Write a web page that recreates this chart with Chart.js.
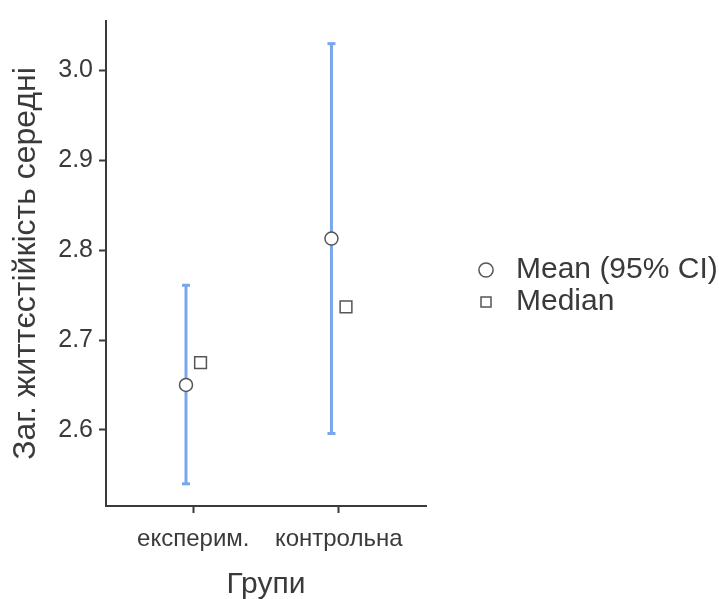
<!DOCTYPE html>
<html>
<head>
<meta charset="utf-8">
<script src="https://cdn.jsdelivr.net/npm/chart.js@4.4.1/dist/chart.umd.min.js"></script>
<style>
  html, body { margin: 0; padding: 0; background: #ffffff; }
  #wrap { width: 719px; height: 599px; }
</style>
</head>
<body>
<div id="wrap"><canvas id="c" width="719" height="599"></canvas></div>
<script>
// ---- data ----
const groups = ['експерим.', 'контрольна'];
const meanValues = [2.650, 2.813];
const ciLower = [2.540, 2.596];
const ciUpper = [2.761, 3.030];
const medianValues = [2.675, 2.737];
const yTickValues = [2.6, 2.7, 2.8, 2.9, 3.0];
const yAxisTitle = 'Заг. життєстійкість середні';
const xAxisTitle = 'Групи';
const meanLabel = 'Mean (95% CI)';
const medianLabel = 'Median';

const OFFSET = 0.05;
const textColor = '#3a3a3a';
const axisColor = '#3a3a3a';
const ciColor = '#7aa6ea';
const fontFamily = '"Liberation Sans", Arial, sans-serif';

const meanDataset = {
  label: meanLabel,
  data: meanValues.map((v, i) => ({ x: i + 1 - OFFSET, y: v })),
  showLine: false,
  pointStyle: 'circle',
  pointRadius: 6.5,
  pointBorderWidth: 1.5,
  borderColor: '#555555',
  backgroundColor: '#ffffff',
  borderWidth: 1.5
};

const medianDataset = {
  label: medianLabel,
  data: medianValues.map((v, i) => ({ x: i + 1 + OFFSET, y: v })),
  showLine: false,
  pointStyle: 'rect',
  pointRadius: 8.3,
  pointBorderWidth: 1.5,
  borderColor: '#555555',
  backgroundColor: '#ffffff',
  borderWidth: 1.5
};

const ciDatasets = groups.map((g, i) => ({
  label: 'CI ' + g,
  data: [
    { x: i + 1 - OFFSET, y: ciLower[i] },
    { x: i + 1 - OFFSET, y: ciUpper[i] }
  ],
  showLine: true,
  borderColor: ciColor,
  borderWidth: 3,
  pointStyle: 'line',
  pointRadius: 4,
  pointBorderWidth: 3,
  pointBorderColor: ciColor,
  pointBackgroundColor: ciColor,
  isCI: true
}));

new Chart(document.getElementById('c'), {
  type: 'scatter',
  data: { datasets: [meanDataset, medianDataset, ...ciDatasets] },
  options: {
    responsive: false,
    animation: false,
    events: [],
    layout: { padding: { top: 17, left: 0, right: 0, bottom: 0 } },
    plugins: {
      tooltip: { enabled: false },
      legend: {
        display: true,
        position: 'right',
        align: 'start',
        maxWidth: 250,
        title: { display: true, text: ' ', font: { size: 10, lineHeight: 1 }, padding: { top: 226, bottom: 0 } },
        labels: {
          usePointStyle: true,
          boxHeight: 10,
          padding: 2,
          color: textColor,
          font: { family: fontFamily, size: 30 },
          filter: (item, data) => !data.datasets[item.datasetIndex].isCI
        }
      }
    },
    scales: {
      x: {
        type: 'linear',
        min: 0.4,
        max: 2.6,
        afterBuildTicks: (scale) => { scale.ticks = groups.map((g, i) => ({ value: i + 1 })); },
        afterFit: (scale) => { scale.height = 93; },
        ticks: {
          color: textColor,
          font: { family: fontFamily, size: 24 },
          padding: 12,
          callback: (v) => groups[Math.round(v) - 1]
        },
        grid: { drawOnChartArea: false, drawTicks: true, tickLength: 7, tickWidth: 2, tickColor: axisColor },
        border: { display: true, color: axisColor, width: 2 },
        title: { display: true, text: xAxisTitle, color: textColor, font: { family: fontFamily, size: 30, lineHeight: 1 }, padding: { top: 0, bottom: -1 } }
      },
      y: {
        type: 'linear',
        position: 'left',
        min: 2.5153,
        max: 3.0552,
        afterBuildTicks: (scale) => { scale.ticks = yTickValues.map(v => ({ value: v })); },
        afterFit: (scale) => { scale.width = 106; },
        ticks: {
          color: textColor,
          font: { family: fontFamily, size: 25 },
          padding: 6,
          callback: (v) => Number(v).toFixed(1)
        },
        grid: { drawOnChartArea: false, drawTicks: true, tickLength: 7, tickWidth: 2, tickColor: axisColor },
        border: { display: true, color: axisColor, width: 2 },
        title: { display: true, text: yAxisTitle, color: textColor, font: { family: fontFamily, size: 32, lineHeight: 1 }, padding: { top: 10, bottom: 0 } }
      },
      yRight: {
        type: 'linear',
        position: 'right',
        display: true,
        grid: { display: false },
        border: { display: false },
        ticks: { display: false },
        afterFit: (scale) => { scale.width = 43; }
      }
    }
  }
});
</script>
</body>
</html>
